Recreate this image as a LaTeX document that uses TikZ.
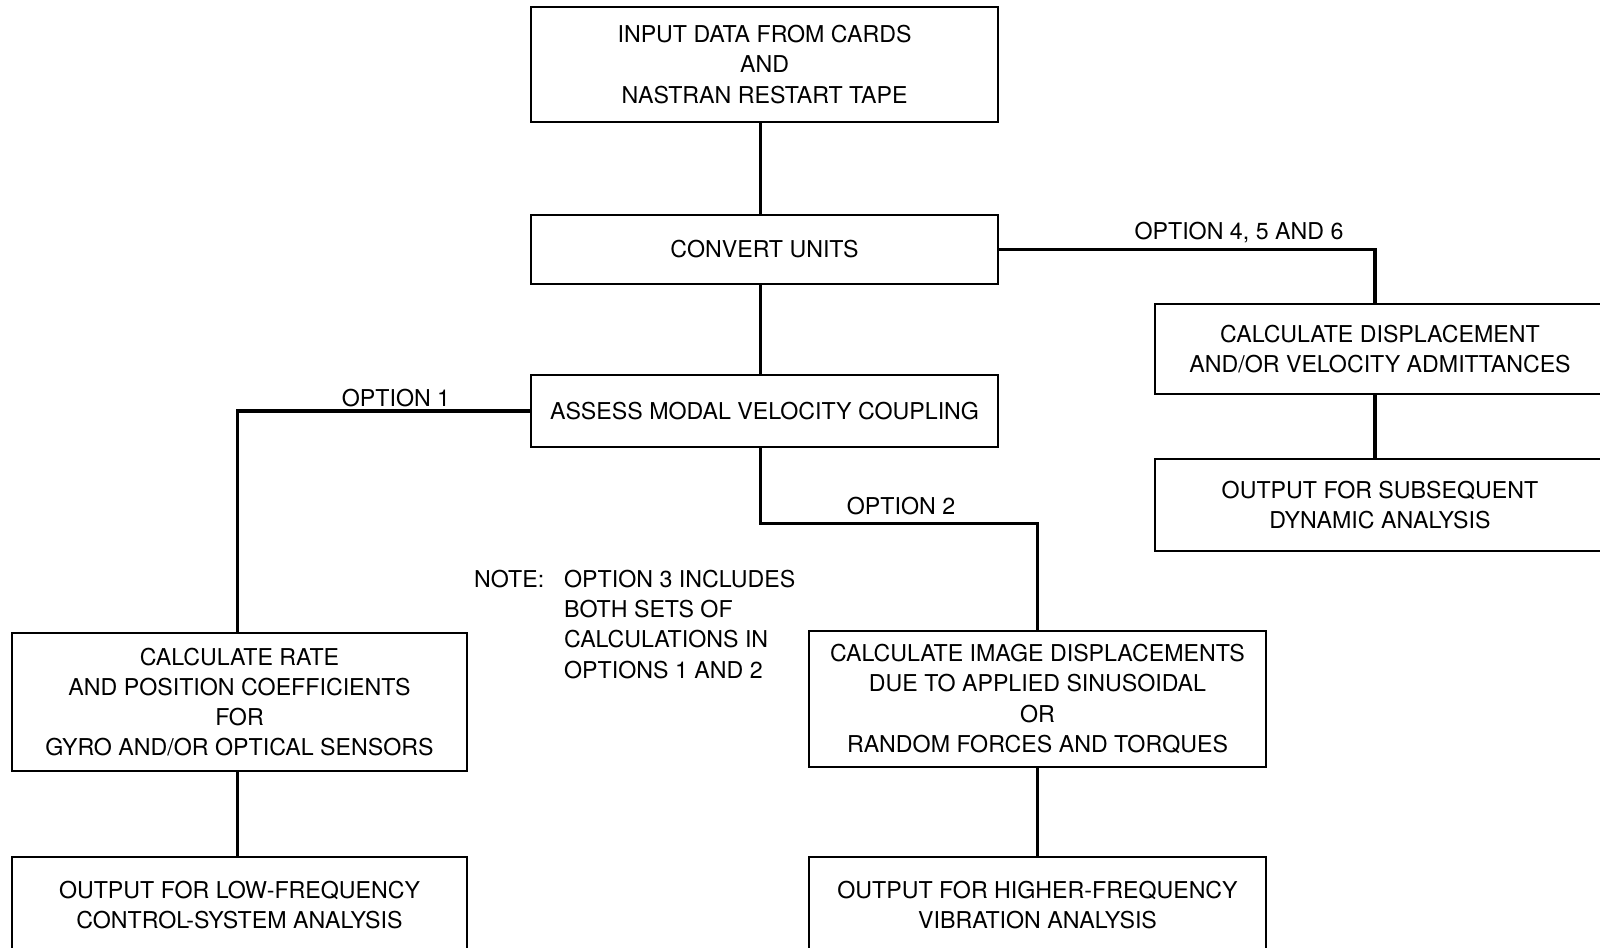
\documentclass[tikz,border=0pt]{standalone}
\usepackage{fontspec}
\setmainfont{TeX Gyre Heros}
\usepackage{tikz}

\tikzset{
    blk/.style={draw, line width=0.7pt, align=center, inner sep=0pt, minimum width=4.67cm},
    link/.style={line width=0.9pt},
    lbl/.style={inner sep=1pt}
}

\begin{document}
\begin{tikzpicture}[xscale=1, yscale=1, font=\fontsize{6.6pt}{8.6pt}\selectfont]

    \useasboundingbox (0,0) rectangle (16,-9.48);

    % main column
    \node[blk, minimum height=1.15cm] (input) at (7.645,-0.645) {INPUT DATA FROM CARDS\\AND\\NASTRAN RESTART TAPE};
    \node[blk, minimum height=0.69cm] (convert) at (7.645,-2.495) {CONVERT UNITS};
    \node[blk, minimum height=0.72cm] (assess) at (7.645,-4.11) {ASSESS MODAL VELOCITY COUPLING};

    % options 4, 5 and 6
    \node[blk, minimum width=4.5cm, minimum height=0.9cm] (calcdisp) at (13.8,-3.49) {CALCULATE DISPLACEMENT\\AND/OR VELOCITY ADMITTANCES};
    \node[blk, minimum width=4.5cm, minimum height=0.92cm] (outdyn) at (13.8,-5.05) {OUTPUT FOR SUBSEQUENT\\DYNAMIC ANALYSIS};

    % option 1
    \node[blk, minimum width=4.55cm, minimum height=1.38cm] (calcrate) at (2.395,-7.02) {CALCULATE RATE\\AND POSITION COEFFICIENTS\\FOR\\GYRO AND/OR OPTICAL SENSORS};
    \node[blk, minimum width=4.55cm, minimum height=0.96cm] (outlow) at (2.395,-9.05) {OUTPUT FOR LOW-FREQUENCY\\CONTROL-SYSTEM ANALYSIS};

    % option 2
    \node[blk, minimum width=4.57cm, minimum height=1.36cm] (calcimg) at (10.375,-6.99) {CALCULATE IMAGE DISPLACEMENTS\\DUE TO APPLIED SINUSOIDAL\\OR\\RANDOM FORCES AND TORQUES};
    \node[blk, minimum width=4.57cm, minimum height=0.96cm] (outhigh) at (10.375,-9.05) {OUTPUT FOR HIGHER-FREQUENCY\\VIBRATION ANALYSIS};

    % connectors
    \draw[link] ([xshift=-0.04cm]input.south) -- ([xshift=-0.04cm]convert.north);
    \draw[link] ([xshift=-0.04cm]convert.south) -- ([xshift=-0.04cm]assess.north);
    \draw[link] (convert.east) -| ([xshift=-0.05cm]calcdisp.north);
    \draw[link] ([xshift=-0.05cm]calcdisp.south) -- ([xshift=-0.05cm]outdyn.north);
    \draw[link] (assess.west) -| ([xshift=-0.02cm]calcrate.north);
    \draw[link] ([xshift=-0.02cm]calcrate.south) -- ([xshift=-0.02cm]outlow.north);
    \draw[link] ([xshift=-0.04cm]assess.south) -- ++(0,-0.75) -| (calcimg.north);
    \draw[link] (calcimg) -- (outhigh);

    % option labels
    \node[lbl] (opt1) at (3.96,-3.98) {OPTION 1};
    \node[lbl] (opt2) at (9.01,-5.06) {OPTION 2};
    \node[lbl] (opt456) at (12.39,-2.33) {OPTION 4, 5 AND 6};

    % note
    \node[lbl, anchor=north west] (note) at (4.70,-5.62) {\begin{tabular}{@{}l@{\hspace{0.2cm}}l@{}}
        NOTE: & OPTION 3 INCLUDES\\
              & BOTH SETS OF\\
              & CALCULATIONS IN\\
              & OPTIONS 1 AND 2
    \end{tabular}};

\end{tikzpicture}
\end{document}
